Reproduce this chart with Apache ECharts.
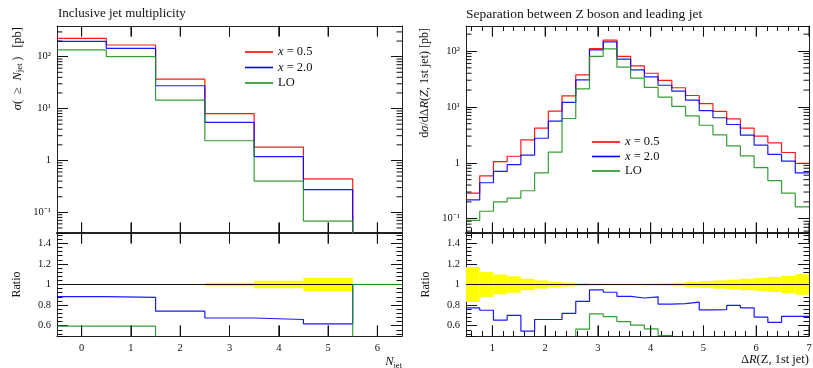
<!DOCTYPE html>
<html><head><meta charset="utf-8">
<script src="https://cdn.jsdelivr.net/npm/echarts@6/dist/echarts.min.js"></script>
<style>html,body{margin:0;padding:0;background:#fff}#c{width:813px;height:368px}</style>
</head><body><div id="c"></div>
<script>
// ---------- data ----------
const seriesNames = ['x = 0.5', 'x = 2.0', 'LO'];
const seriesColors = ['#ff0000', '#0000ff', '#1f941f'];

// Inclusive jet multiplicity (bins centred on 0..6)
const njetEdges = [-0.5, 0.5, 1.5, 2.5, 3.5, 4.5, 5.5, 6.5];
const njetTicks = [0, 1, 2, 3, 4, 5, 6];
const njetX05 = [226, 168, 37, 8.0, 1.81, 0.44, 0];
const njetX20 = [198, 145, 27.5, 5.4, 1.19, 0.273, 0];
const njetLO  = [135, 100, 14.5, 2.4, 0.40, 0.068, 0];
const njetRatioX20 = [0.882, 0.875, 0.741, 0.675, 0.66, 0.618, 1.0];
const njetRatioLO  = [0.596, 0.596, 0.39, 0.30, 0.22, 0.155, 1.0];
const njetBand     = [0.005, 0.005, 0.006, 0.016, 0.036, 0.066, 0];

// Separation between Z boson and leading jet (25 bins, 0.5..7)
const drEdges = [0.5, 0.76, 1.02, 1.28, 1.54, 1.80, 2.06, 2.32, 2.58, 2.84, 3.10, 3.36, 3.62,
  3.88, 4.14, 4.40, 4.66, 4.92, 5.18, 5.44, 5.70, 5.96, 6.22, 6.48, 6.74, 7.00];
const drTicks = [1, 2, 3, 4, 5, 6, 7];
const drX05 = [0.286, 0.585, 1.05, 1.31, 2.58, 4.16, 8.4, 15.8, 37.5, 110, 157, 80, 54.3, 40,
  29.7, 22, 16, 11.4, 8.3, 6.1, 4.16, 3.0, 2.28, 1.53, 0.98];
const drX20 = [0.218, 0.44, 0.70, 0.93, 1.37, 2.75, 5.55, 12.0, 30.5, 105, 146, 71.3, 46, 34.5,
  24.4, 19.1, 13.2, 8.6, 6.4, 4.84, 3.12, 2.07, 1.41, 1.07, 0.66];
const drLO  = [0.093, 0.136, 0.2, 0.233, 0.316, 0.66, 1.55, 6.2, 21, 80, 109, 51.5, 32.6, 22.3,
  14.9, 10.2, 6.9, 4.7, 3.17, 2.0, 1.33, 0.82, 0.48, 0.286, 0.163];
const drRatioX20 = [0.773, 0.75, 0.655, 0.70, 0.547, 0.66, 0.66, 0.72, 0.836, 0.947, 0.925, 0.885,
  0.869, 0.88, 0.81, 0.815, 0.828, 0.754, 0.757, 0.797, 0.773, 0.683, 0.632, 0.69, 0.69];
const drRatioLO  = [0.33, 0.23, 0.19, 0.18, 0.12, 0.16, 0.18, 0.39, 0.566, 0.714, 0.688, 0.64,
  0.606, 0.57, 0.505, 0.46, 0.43, 0.41, 0.38, 0.33, 0.32, 0.27, 0.21, 0.19, 0.17];
const drBand = [0.17, 0.12, 0.095, 0.08, 0.055, 0.04, 0.027, 0.02, 0.014, 0.01, 0.008, 0.008, 0.008,
  0.01, 0.012, 0.018, 0.025, 0.032, 0.04, 0.047, 0.055, 0.062, 0.072, 0.083, 0.1];

// ---------- helpers ----------
const FONT = 'Liberation Serif';
const TXT = '#111';
const TICK_ST = {stroke: '#111', lineWidth: 1};
function steps(edges, vals, floor) {
  const pts = vals.map((v, i) => [edges[i], v > 0 ? v : floor]);
  pts.push([edges[edges.length - 1], pts[pts.length - 1][1]]);
  return pts;
}
function bandData(edges, errs) {
  return errs.map((e, i) => [edges[i], edges[i + 1], e]);
}
function powLabel(v) {
  const l = Math.log10(v), e = Math.round(l);
  if (Math.abs(l - e) > 1e-6) return '';
  if (e === 0) return '1';
  const sup = {'-': '⁻', '0': '⁰', '1': '¹', '2': '²', '3': '³'};
  return '10' + String(e).split('').map(c => sup[c]).join('');
}
function logMinor(xmin, lo, hi) {
  const out = [];
  for (let e = -3; e <= 3; e++) for (let k = 2; k <= 9; k++) {
    const v = k * Math.pow(10, e);
    if (v > lo && v < hi) out.push([xmin, v]);
  }
  return out;
}
const intLabel = v => Math.abs(v - Math.round(v)) < 1e-6 ? String(Math.round(v)) : '';
const tick = {show: true, inside: true, length: 11, lineStyle: {color: '#111', width: 1}};
const minor = {show: true, length: 5, splitNumber: 5, lineStyle: {color: '#111', width: 1}};
const lblStyle = {fontFamily: FONT, fontSize: 10.5, color: TXT};

const grids = [
  {left: 57, top: 26, width: 345, height: 207},
  {left: 57, top: 233, width: 345, height: 103},
  {left: 466, top: 26, width: 343, height: 207},
  {left: 466, top: 233, width: 343, height: 103}
].map(g => Object.assign(g, {containLabel: false, outerBoundsMode: 'none'}));
const xR = [{min: -0.5, max: 6.5, split: 7, minor: false, ticks: njetTicks},
            {min: 0.5, max: 7, split: 6, minor: true, ticks: drTicks}];
const yMain = [{min: 0.04, max: 390}, {min: 0.0555, max: 280}];

const xAxis = [], yAxis = [];
for (let g = 0; g < 4; g++) {
  const p = g < 2 ? 0 : 1, isRatio = g % 2 === 1;
  const xr = xR[p];
  const xbase = {type: 'value', gridIndex: g, min: xr.min, max: xr.max, splitNumber: xr.split,
    splitLine: {show: false},
    axisTick: {show: true, inside: true, length: 10.5, customValues: xr.ticks, lineStyle: {color: '#111', width: 1}},
    minorTick: Object.assign({}, minor, {show: xr.minor})};
  xAxis.push(Object.assign({}, xbase, {position: 'bottom',
    axisLine: {show: true, onZero: false, lineStyle: {color: '#222', width: isRatio ? 1 : 2}},
    axisLabel: {show: isRatio, customValues: xr.ticks, margin: 7, formatter: intLabel, ...lblStyle}}));
  xAxis.push(Object.assign({}, xbase, {position: 'top',
    axisLine: {show: true, onZero: false, lineStyle: {color: '#222', width: 1}},
    axisLabel: {show: false, customValues: xr.ticks, formatter: intLabel}}));

  if (!isRatio) {
    const yr = yMain[p];
    const ybase = {type: 'log', logBase: 10, gridIndex: g, min: yr.min, max: yr.max,
      splitLine: {show: false}, axisLine: {show: true, onZero: false, lineStyle: {color: '#222', width: 1}},
      axisTick: Object.assign({}, tick)};
    yAxis.push(Object.assign({}, ybase, {position: 'left',
      axisLabel: {show: true, margin: 6, formatter: powLabel, showMinLabel: false, showMaxLabel: false, ...lblStyle}}));
    yAxis.push(Object.assign({}, ybase, {position: 'right', axisLabel: {show: false}}));
  } else {
    const ybase = {type: 'value', gridIndex: g, min: 0.5, max: 1.5, splitNumber: 5,
      splitLine: {show: false}, axisLine: {show: true, onZero: false, lineStyle: {color: '#222', width: 1}},
      axisTick: Object.assign({}, tick),
      minorTick: Object.assign({}, minor, {length: 5.5})};
    yAxis.push(Object.assign({}, ybase, {position: 'left',
      axisLabel: {show: true, margin: 6,
        formatter: v => (Math.abs(v - 0.5) < 1e-6 || Math.abs(v - 1.5) < 1e-6) ? '' : String(Math.round(v * 100) / 100),
        ...lblStyle},
      name: 'Ratio', nameLocation: 'middle', nameGap: 34,
      nameTextStyle: {fontFamily: FONT, fontSize: 12, color: TXT}}));
    yAxis.push(Object.assign({}, ybase, {position: 'right', axisLabel: {show: false}}));
  }
}

const series = [];
function addMain(g, edges, arrs) {
  arrs.forEach((a, i) => series.push({
    type: 'line', name: seriesNames[i], xAxisIndex: 2 * g, yAxisIndex: 2 * g,
    data: steps(edges, a, 1e-5), step: 'end', showSymbol: false, symbol: 'none',
    lineStyle: {color: seriesColors[i], width: 1.2, opacity: 0.9}, itemStyle: {color: seriesColors[i]},
    clip: true, animation: false, z: 3 + i
  }));
}
function addRatio(g, edges, band, rx20, rlo) {
  series.push({
    type: 'custom', xAxisIndex: 2 * g, yAxisIndex: 2 * g, data: bandData(edges, band),
    encode: {x: [0, 1], y: [2]}, clip: true, silent: true, z: 1,
    renderItem: (params, api) => {
      const lo = api.value(0), hi = api.value(1), e = api.value(2);
      if (!(e > 0)) return null;
      const a = api.coord([lo, 1 + e]), b = api.coord([hi, 1 - e]);
      return {type: 'rect', shape: {x: a[0], y: a[1], width: b[0] - a[0], height: b[1] - a[1]},
        style: {fill: '#ffff00'}};
    },
    markLine: {silent: true, symbol: 'none', label: {show: false}, animation: false,
      lineStyle: {color: '#111', width: 1.2, type: 'solid'}, data: [{yAxis: 1}]}
  });
  [rx20, rlo].forEach((a, k) => series.push({
    type: 'line', name: seriesNames[k + 1], xAxisIndex: 2 * g, yAxisIndex: 2 * g,
    data: steps(edges, a, 0), step: 'end', showSymbol: false, symbol: 'none',
    lineStyle: {color: seriesColors[k + 1], width: 1.2, opacity: 0.9}, itemStyle: {color: seriesColors[k + 1]},
    clip: true, animation: false, z: 4 + k
  }));
}
// log-axis minor ticks (2..9 x 10^k), mirrored left/right, placed through the y scale
function addLogMinor(g, xmin, lo, hi) {
  series.push({
    type: 'custom', xAxisIndex: 2 * g, yAxisIndex: 2 * g, data: logMinor(xmin, lo, hi), silent: true, z: 6,
    renderItem: (params, api) => {
      const cs = params.coordSys;
      const y = api.coord([api.value(0), api.value(1)])[1];
      return {type: 'group', children: [
        {type: 'line', shape: {x1: cs.x, y1: y, x2: cs.x + 5.5, y2: y}, style: TICK_ST},
        {type: 'line', shape: {x1: cs.x + cs.width - 5.5, y1: y, x2: cs.x + cs.width, y2: y}, style: TICK_ST}
      ]};
    }
  });
}
addMain(0, njetEdges, [njetX05, njetX20, njetLO]);
addRatio(1, njetEdges, njetBand, njetRatioX20, njetRatioLO);
addMain(2, drEdges, [drX05, drX20, drLO]);
addRatio(3, drEdges, drBand, drRatioX20, drRatioLO);
addLogMinor(0, -0.5, yMain[0].min, yMain[0].max);
addLogMinor(2, 0.5, yMain[1].min, yMain[1].max);

const legendCommon = {
  orient: 'vertical', icon: 'rect', itemWidth: 28, itemHeight: 1.6, selectedMode: false,
  data: seriesNames,
  formatter: n => n.charAt(0) === 'x' ? '{it|x}' + n.slice(1) : n,
  textStyle: {fontFamily: FONT, fontSize: 12.5, color: TXT, lineHeight: 14,
    rich: {it: {fontStyle: 'italic', fontFamily: FONT, fontSize: 12.5, color: TXT}}}
};

const richName = {
  it: {fontStyle: 'italic', fontFamily: FONT, fontSize: 12.5, fill: TXT},
  sub: {fontFamily: FONT, fontSize: 9, fill: TXT, verticalAlign: 'bottom'}
};
const richX = {
  it: {fontStyle: 'italic', fontFamily: FONT, fontSize: 12.5, fill: TXT},
  sub: {fontFamily: FONT, fontSize: 8.5, fill: TXT, verticalAlign: 'top', padding: [8, 0, 0, 0]}
};

const baseGraphic = [
  {type: 'text', x: 17.5, y: 27, rotation: Math.PI / 2,
    style: {text: '{it|σ}(\u2002≥\u2002{it|N}{sub|jet}\u2009)\u2002\u2009[pb]', rich: richName, fontFamily: FONT, fontSize: 12.5, fill: TXT,
      align: 'right', verticalAlign: 'middle'}},
  {type: 'text', x: 425, y: 28, rotation: Math.PI / 2,
    style: {text: 'd{it|σ}/dΔ{it|R}({it|Z}, 1st jet) [pb]', rich: richName, fontFamily: FONT, fontSize: 12, fill: TXT,
      align: 'right', verticalAlign: 'middle'}},
  {type: 'text', x: 402, y: 353,
    style: {text: '{it|N}{sub|jet}', rich: richX, fontFamily: FONT, fontSize: 12.5, fill: TXT,
      align: 'right', verticalAlign: 'top'}},
  {type: 'text', x: 809, y: 353,
    style: {text: 'Δ{it|R}(Z, 1st jet)', rich: richX, fontFamily: FONT, fontSize: 12.5, fill: TXT,
      align: 'right', verticalAlign: 'top'}}
];

const option = {
  animation: false,
  backgroundColor: '#fff',
  title: [
    {text: 'Inclusive jet multiplicity', left: 53, top: 2,
      textStyle: {fontFamily: FONT, fontSize: 13, fontWeight: 'normal', color: TXT}},
    {text: 'Separation between Z boson and leading jet', left: 461, top: 2,
      textStyle: {fontFamily: FONT, fontSize: 13.5, fontWeight: 'normal', color: TXT}}
  ],
  legend: [
    Object.assign({}, legendCommon, {left: 240, top: 40, itemGap: 1.5}),
    Object.assign({}, legendCommon, {left: 587, top: 130, itemGap: 0.5})
  ],
  graphic: baseGraphic,
  grid: grids,
  xAxis, yAxis, series
};
const chart = echarts.init(document.getElementById('c'), null, {renderer: 'canvas'});
chart.setOption(option);

// Major x ticks (mirrored top/bottom, inward), positioned through each x axis' scale.
const tickEls = [];
[[0, njetTicks], [1, njetTicks], [2, drTicks], [3, drTicks]].forEach(([g, vals]) => {
  const gr = grids[g];
  vals.forEach(v => {
    const x = chart.convertToPixel({xAxisIndex: 2 * g}, v);
    if (typeof x !== 'number' || !isFinite(x)) return;
    tickEls.push({type: 'line', z: 100, silent: true,
      shape: {x1: x, y1: gr.top, x2: x, y2: gr.top + 10.5}, style: TICK_ST});
    tickEls.push({type: 'line', z: 100, silent: true,
      shape: {x1: x, y1: gr.top + gr.height - 10.5, x2: x, y2: gr.top + gr.height}, style: TICK_ST});
  });
});
chart.setOption({graphic: baseGraphic.concat(tickEls)});
</script>
</body></html>
